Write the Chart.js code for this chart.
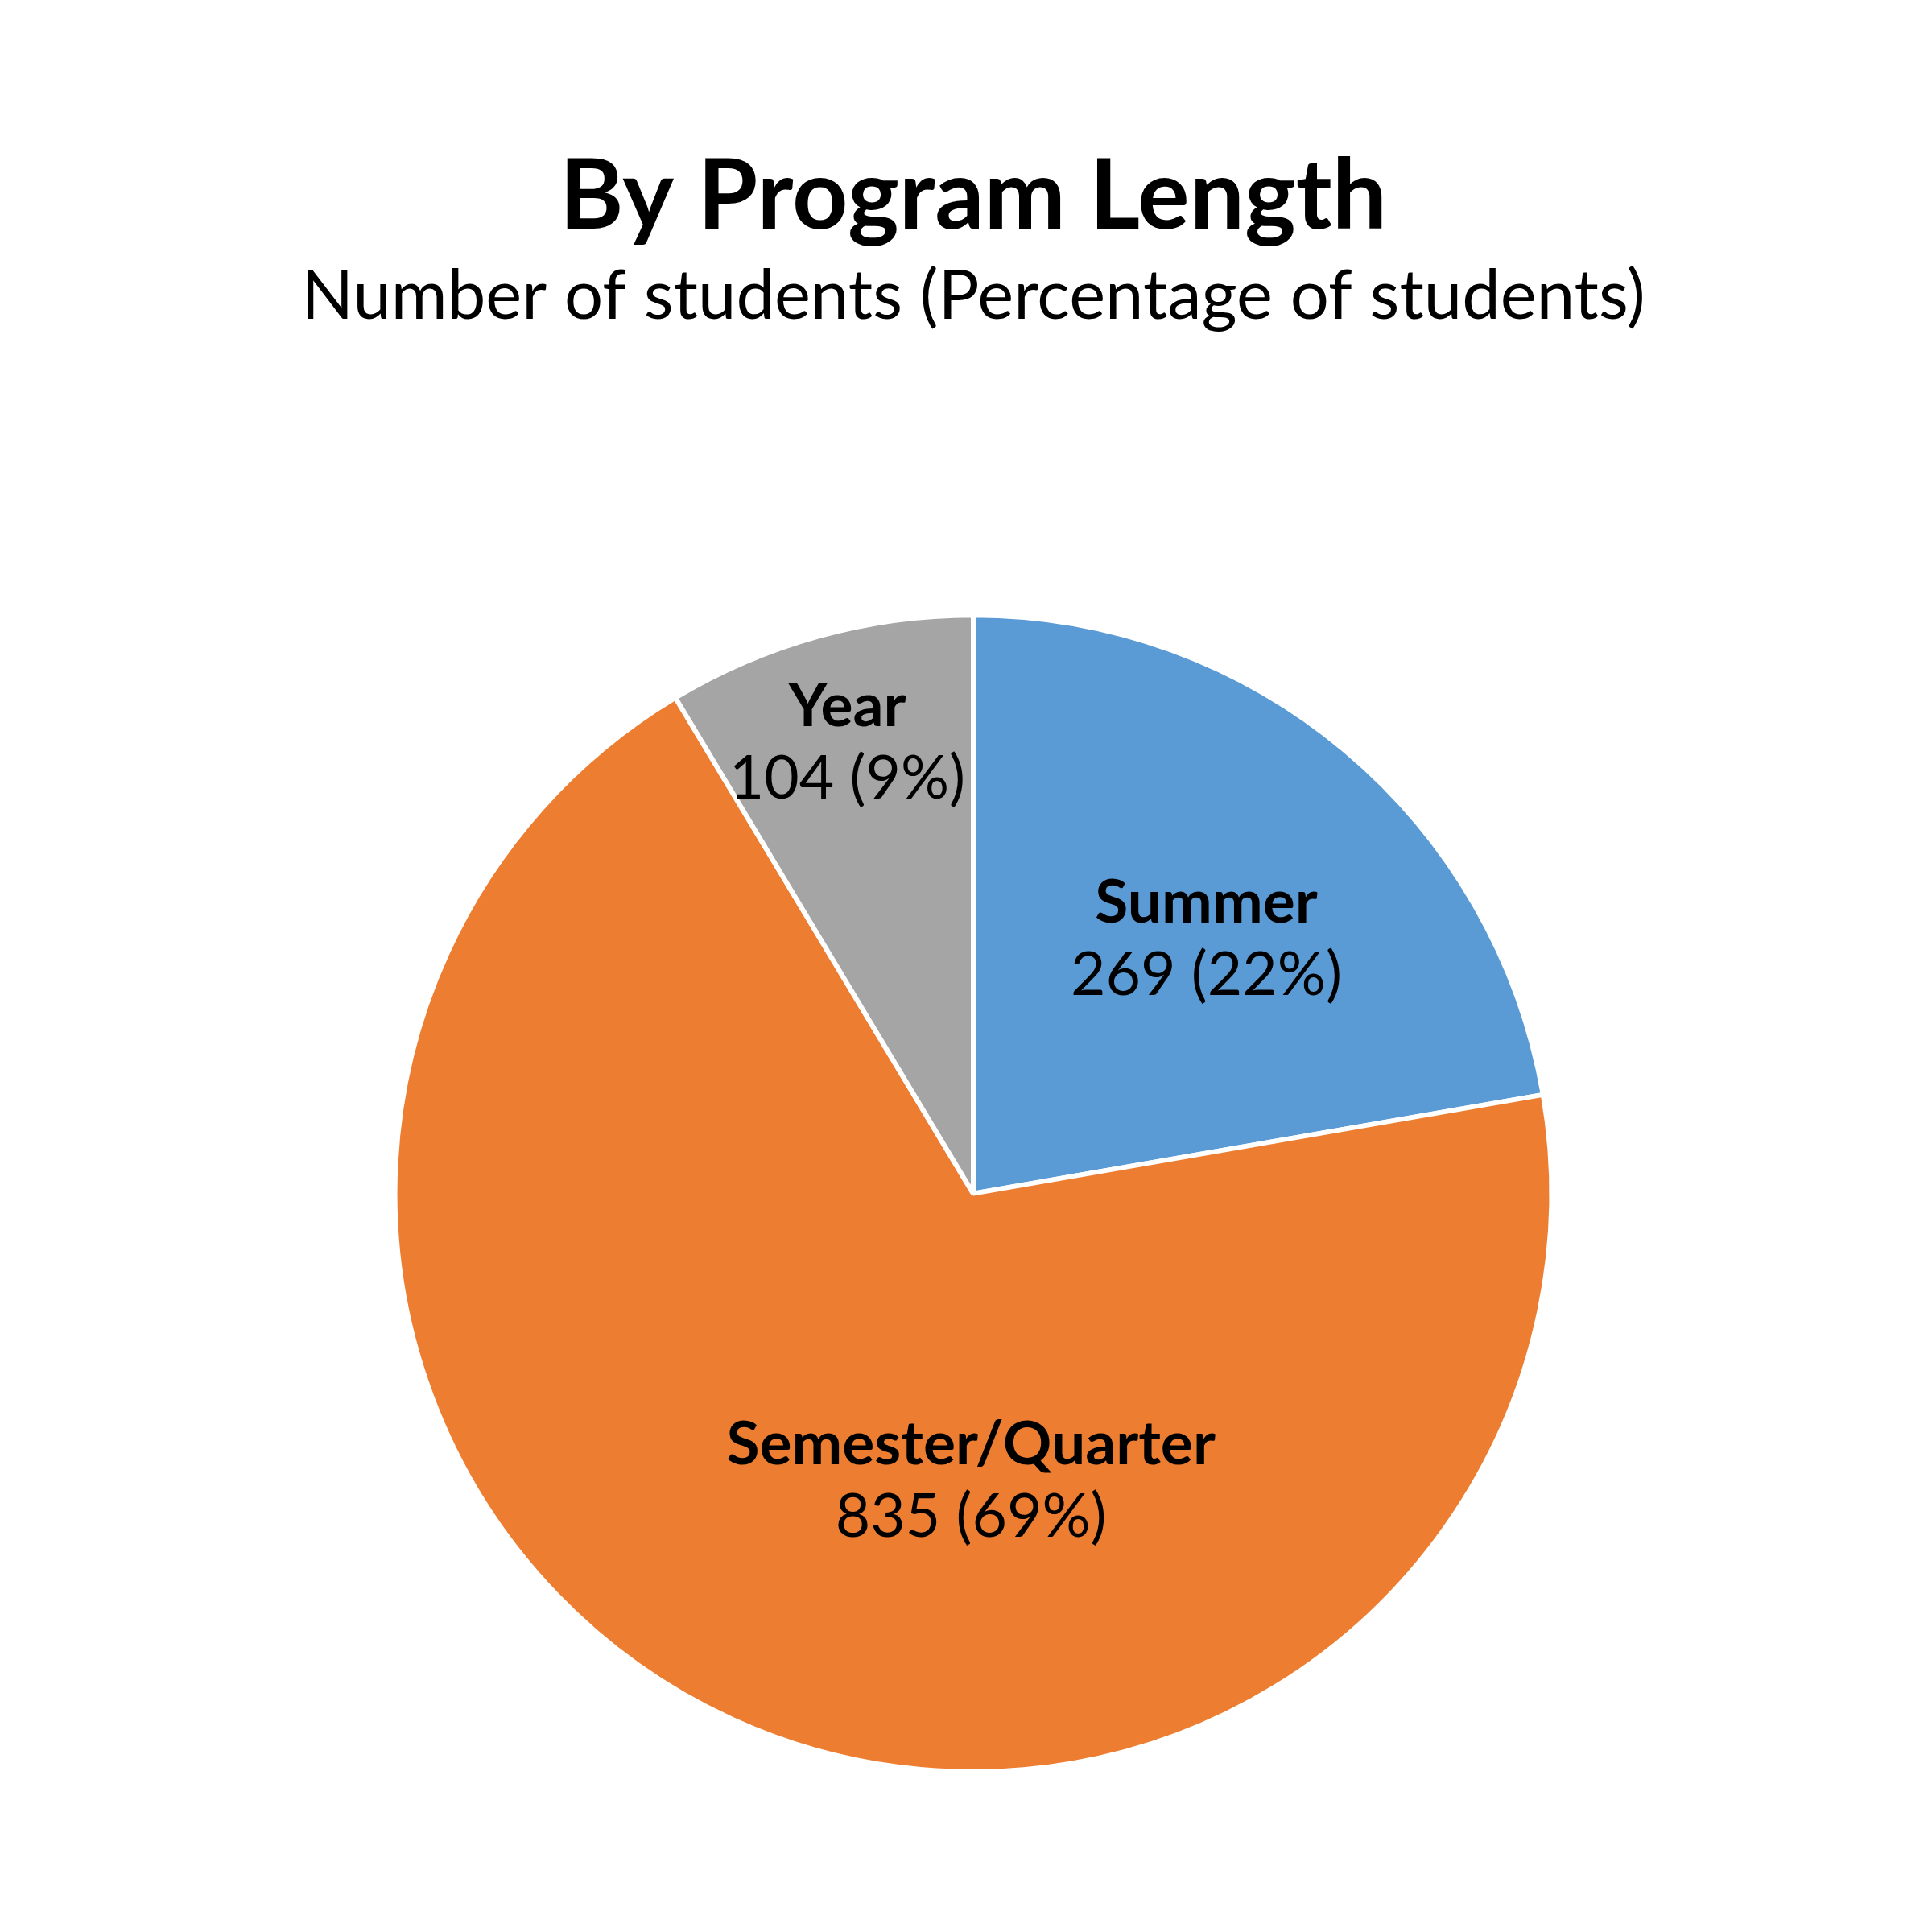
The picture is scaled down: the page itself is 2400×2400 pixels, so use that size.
<!DOCTYPE html>
<html>
<head>
<meta charset="utf-8">
<script src="https://cdn.jsdelivr.net/npm/chart.js"></script>
<style>
  html, body { margin: 0; padding: 0; background: #fff; }
  canvas { display: block; }
</style>
</head>
<body>
<canvas id="pieChart" width="2400" height="2400"></canvas>
<script>
// chart data
var categories = ['Summer', 'Semester/Quarter', 'Year'];
var students = [269, 835, 104];
var sliceColors = ['#5B9BD5', '#ED7D31', '#A5A5A5'];

// label anchors, in units of the pie radius from its centre
var labelAnchors = [[0.403, -0.440], [-0.004, 0.497], [-0.218, -0.779]];

var sliceLabels = {
    id: 'sliceLabels',
    afterDatasetsDraw: function (chart) {
        var ctx = chart.ctx;
        var meta = chart.getDatasetMeta(0);
        var total = students.reduce(function (a, b) { return a + b; }, 0);
        ctx.save();
        ctx.fillStyle = '#000';
        ctx.textAlign = 'center';
        ctx.textBaseline = 'middle';
        meta.data.forEach(function (arc, i) {
            var r = arc.outerRadius;
            var x = arc.x + labelAnchors[i][0] * r;
            var y = arc.y + labelAnchors[i][1] * r;
            var pct = Math.round(students[i] / total * 100);
            ctx.font = 'bold 75px Lato';
            ctx.fillText(categories[i], x, y - 45);
            ctx.font = '75px Lato';
            ctx.fillText(students[i] + ' (' + pct + '%)', x, y + 45);
        });
        ctx.restore();
    }
};

var ctx = document.getElementById('pieChart').getContext('2d');
new Chart(ctx, {
    type: 'pie',
    data: {
        labels: categories,
        datasets: [{
            data: students,
            backgroundColor: sliceColors,
            borderColor: '#ffffff',
            borderWidth: 6
        }]
    },
    options: {
        responsive: false,
        devicePixelRatio: 1,
        animation: false,
        layout: {
            padding: { top: 0, bottom: 196, left: 18, right: 0 }
        },
        plugins: {
            legend: { display: false },
            tooltip: { enabled: false },
            title: {
                display: true,
                text: 'By Program Length',
                color: '#000',
                font: { family: 'Lato', size: 121, weight: 'bold', lineHeight: 1.2 },
                padding: { top: 172, bottom: 0 }
            },
            subtitle: {
                display: true,
                text: 'Number of students (Percentage of students)',
                color: '#000',
                font: { family: 'Lato', size: 85, weight: 'normal', lineHeight: 1.2 },
                padding: { top: 0, bottom: 342 }
            }
        }
    },
    plugins: [sliceLabels]
});
</script>
</body>
</html>
